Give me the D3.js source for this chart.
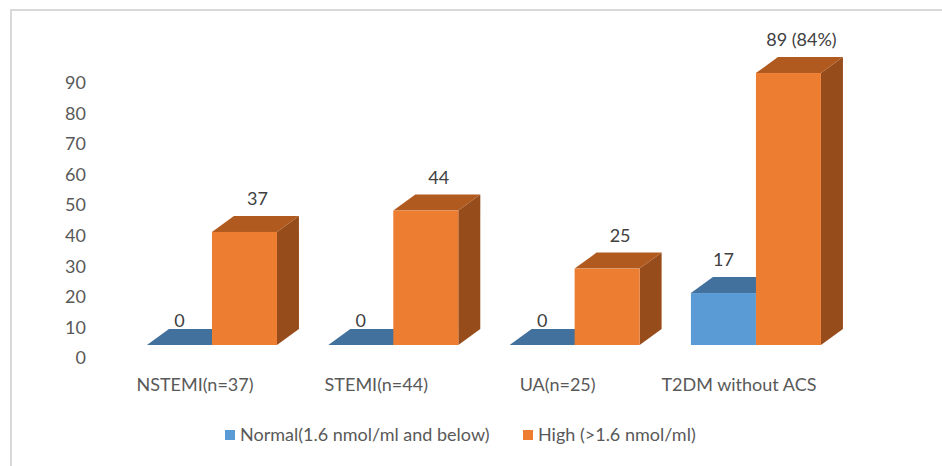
<!DOCTYPE html>
<html>
<head>
<meta charset="utf-8">
<script src="https://cdn.jsdelivr.net/npm/d3@7"></script>
<style>
  html, body { margin: 0; padding: 0; background: #fff; }
  svg { display: block; font-family: Lato, "Liberation Sans", sans-serif; }
</style>
</head>
<body>
<svg id="chart" width="942" height="466"></svg>
<script>
// Categories and series
const categories = ["NSTEMI(n=37)", "STEMI(n=44)", "UA(n=25)", "T2DM without ACS"];
const seriesNames = ["Normal(1.6 nmol/ml and below)", "High (>1.6 nmol/ml)"];
const normalValues = [0, 0, 0, 17];
const highValues = [37, 44, 25, 89];
const normalLabels = ["0", "0", "0", "17"];
const highLabels = ["37", "44", "25", "89 (84%)"];
const yTicks = [0, 10, 20, 30, 40, 50, 60, 70, 80, 90];

// Face colours per series: front, top, side
const palette = [
  { front: "#5b9bd5", top: "#41719c", side: "#3a6590" },
  { front: "#ed7d31", top: "#b15a1f", side: "#974c1b" }
];

const svg = d3.select("#chart");
const W = 942, H = 466;

// Chart frame
svg.append("path")
  .attr("d", `M11,${H} L11,10 L${W},10`)
  .attr("fill", "none")
  .attr("stroke", "#d9d9d9")
  .attr("stroke-width", 2);

// Depth offset of the 3D columns
const depth = { dx: 22, dy: -16 };

const x = d3.scaleBand()
  .domain(categories)
  .range([121.3, 846.6])
  .paddingInner(0.283)
  .paddingOuter(0.1415);

const xs = d3.scaleBand()
  .domain(seriesNames)
  .range([0, x.bandwidth()]);

const y = d3.scaleLinear().domain([0, 90]).range([345, 70]);
// The value axis labels sit a little below the front floor line
const yAxisScale = d3.scaleLinear().domain([0, 90]).range([358, 83]);

const axis = d3.axisLeft(yAxisScale).tickValues(yTicks).tickSize(0).tickPadding(0);
const gAxis = svg.append("g").attr("transform", "translate(86,0)").call(axis);
gAxis.select(".domain").remove();
gAxis.selectAll("text")
  .attr("fill", "#595959")
  .style("font-size", "18px")
  .style("font-family", "Lato, sans-serif");

// Build bar records
const bars = [];
categories.forEach((c, i) => {
  [normalValues, highValues].forEach((vals, s) => {
    bars.push({
      cat: c, s, v: vals[i],
      label: (s === 0 ? normalLabels : highLabels)[i]
    });
  });
});

const gBars = svg.append("g");
bars.forEach(b => {
  const x0 = x(b.cat) + xs(seriesNames[b.s]);
  const x1 = x0 + xs.bandwidth();
  const yTop = y(b.v), yBot = y(0);
  const col = palette[b.s];
  const g = gBars.append("g");
  // side face
  g.append("path")
    .attr("d", `M${x1},${yBot} L${x1 + depth.dx},${yBot + depth.dy} L${x1 + depth.dx},${yTop + depth.dy} L${x1},${yTop} Z`)
    .attr("fill", col.side);
  // top face
  g.append("path")
    .attr("d", `M${x0},${yTop} L${x1},${yTop} L${x1 + depth.dx},${yTop + depth.dy} L${x0 + depth.dx},${yTop + depth.dy} Z`)
    .attr("fill", col.top);
  // front face
  g.append("rect")
    .attr("x", x0).attr("y", yTop)
    .attr("width", x1 - x0).attr("height", yBot - yTop)
    .attr("fill", col.front);
});

// Value labels
bars.forEach(b => {
  const x0 = x(b.cat) + xs(seriesNames[b.s]);
  const cx = x0 + xs.bandwidth() / 2 + (b.s === 1 ? 13 : 0);
  const yb = y(b.v) + depth.dy - (b.v === 0 ? 2 : 11);
  svg.append("text")
    .attr("x", cx).attr("y", yb)
    .attr("text-anchor", "middle")
    .attr("fill", "#404040")
    .style("font-size", "18px")
    .text(b.label);
});

// Category labels
svg.append("g").selectAll("text")
  .data(categories).join("text")
  .attr("x", d => x(d) + x.bandwidth() / 2 - 17)
  .attr("y", 391)
  .attr("text-anchor", "middle")
  .attr("fill", "#595959")
  .style("font-size", "18px")
  .text(d => d);

// Legend
const legendItems = [
  { name: seriesNames[0], color: palette[0].front, x: 225 },
  { name: seriesNames[1], color: palette[1].front, x: 523 }
];
const gLeg = svg.append("g");
legendItems.forEach(it => {
  gLeg.append("rect")
    .attr("x", it.x).attr("y", 430)
    .attr("width", 10).attr("height", 10)
    .attr("fill", it.color);
  gLeg.append("text")
    .attr("x", it.x + 15).attr("y", 441)
    .attr("fill", "#595959")
    .style("font-size", "18px")
    .text(it.name);
});
</script>
</body>
</html>
